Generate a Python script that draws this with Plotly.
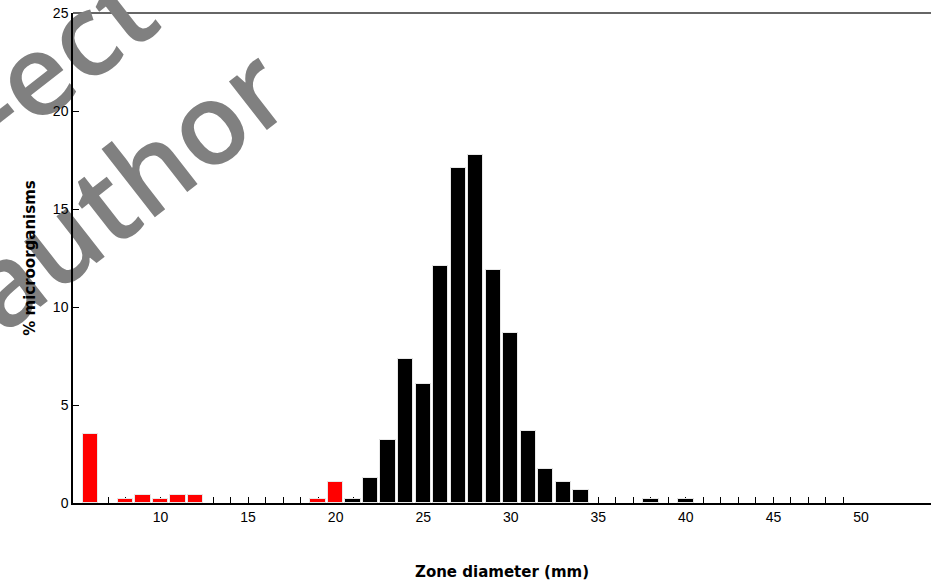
import plotly.graph_objects as go

# Data
red_x = [6, 8, 9, 10, 11, 12, 19, 20]
red_y = [3.5, 0.2, 0.4, 0.2, 0.4, 0.4, 0.2, 1.05]
black_x = [21, 22, 23, 24, 25, 26, 27, 28, 29, 30, 31, 32, 33, 34, 38, 40]
black_y = [0.2, 1.3, 3.2, 7.35, 6.05, 12.1, 17.1, 17.75, 11.9, 8.65, 3.65, 1.75, 1.05, 0.65, 0.2, 0.2]
x_major = [10, 15, 20, 25, 30, 35, 40, 45, 50]
x_minor = list(range(7, 50))
y_ticks = [0, 5, 10, 15, 20, 25]

fig = go.Figure()
fig.add_trace(go.Bar(x=red_x, y=red_y, width=0.88,
                     marker=dict(color="#ff0000", line=dict(color="#e8e8e8", width=1))))
fig.add_trace(go.Bar(x=black_x, y=black_y, width=0.88,
                     marker=dict(color="#000000", line=dict(color="#e8e8e8", width=1))))

fig.update_layout(
    width=931, height=581,
    margin=dict(l=73, r=0, t=13, b=78),
    plot_bgcolor="rgba(0,0,0,0)", paper_bgcolor="white",
    showlegend=False, bargap=0,
    font=dict(family="Liberation Sans, Arial, sans-serif", size=14, color="black"),
    xaxis=dict(range=[5, 54], tickvals=x_major, ticks="", showgrid=False,
               zeroline=False, showline=True, linecolor="black", linewidth=1.5,
               layer="below traces",
               minor=dict(tickvals=x_minor, ticks="inside", ticklen=6, tickcolor="black", tickwidth=1),
               tickfont=dict(size=14),
               title=dict(text="<b>Zone diameter (mm)</b>", standoff=44,
                          font=dict(family="DejaVu Sans", size=15))),
    yaxis=dict(range=[0, 25], tickvals=y_ticks, ticks="inside", ticklen=6, tickcolor="black",
               showgrid=False, zeroline=False, showline=True, linecolor="black", linewidth=1.5,
               layer="below traces", tickfont=dict(size=14),
               title=dict(text="<b>% microorganisms</b>", standoff=14,
                          font=dict(family="DejaVu Sans", size=15))),
)

# top frame line
fig.add_shape(type="line", xref="paper", yref="paper", x0=0, x1=1, y0=1, y1=1,
              line=dict(color="#666666", width=2), layer="below")

# watermark (drawn beneath the axes, as in the reference)
wm_font = dict(family="Open Sans", size=114, color="#808080", weight=600)

def px_to_paper(px, py):
    return (px - 73) / 858, (503 - py) / 490

for txt, (cx, cy) in [("author", (128, 192)), ("-ect", (62, 60))]:
    xp, yp = px_to_paper(cx, cy)
    fig.add_shape(type="rect", xref="paper", yref="paper",
                  x0=xp - 0.001, x1=xp + 0.001, y0=yp - 0.001, y1=yp + 0.001,
                  line=dict(width=0), fillcolor="rgba(0,0,0,0)", layer="below",
                  label=dict(text=txt, textangle=-38, font=wm_font,
                             textposition="middle center"))

fig.write_html("out.html")
